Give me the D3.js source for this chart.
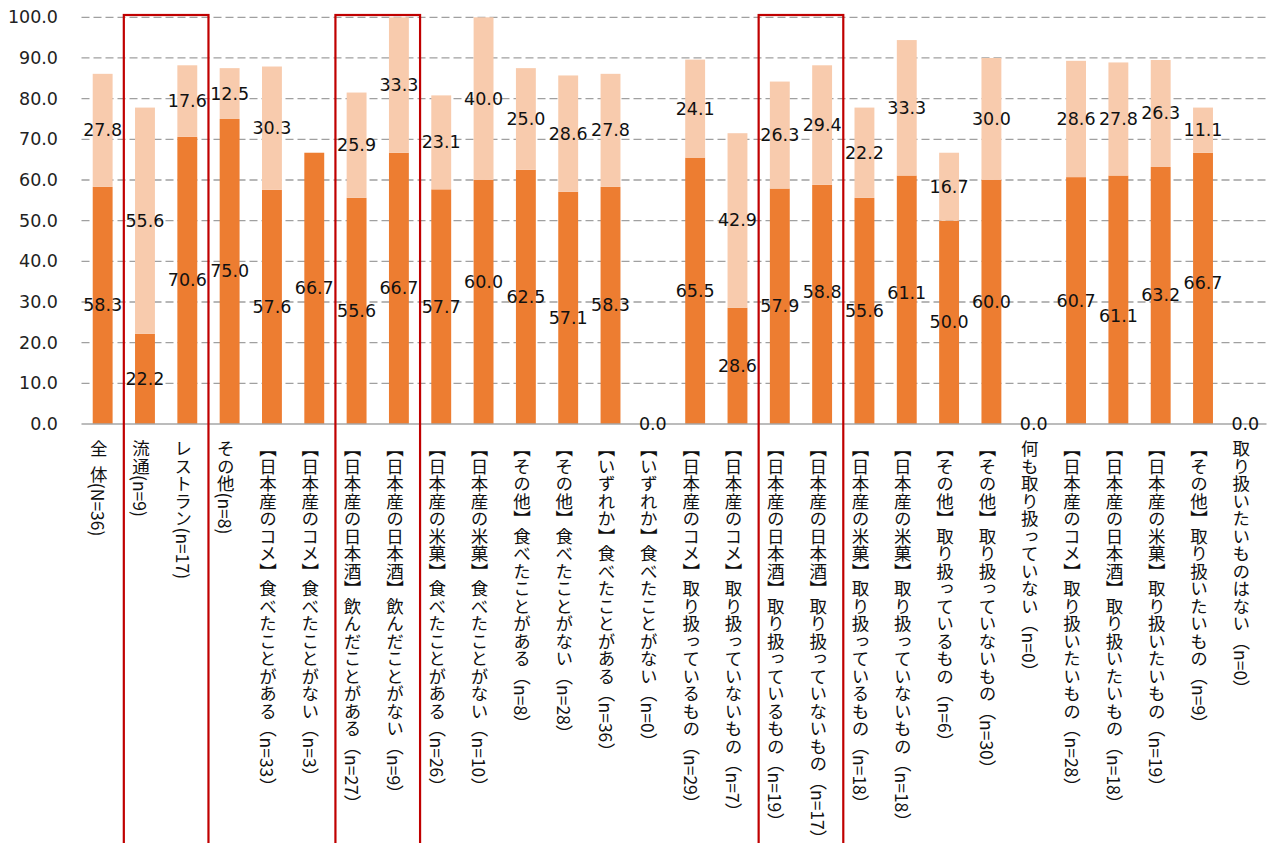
<!DOCTYPE html>
<html>
<head>
<meta charset="utf-8">
<script src="https://cdn.jsdelivr.net/npm/d3@7"></script>
<style>
  html, body { margin: 0; padding: 0; background: #fff; }
  svg { display: block; }
</style>
</head>
<body>
<svg id="chart" width="1276" height="843"></svg>
<script>
// Category labels (vertical Japanese text under each bar)
const categories = [
  "全\u00a0\u00a0体(N=36)",
  "流通(n=9)",
  "レストラン(n=17)",
  "その他(n=8)",
  "【日本産のコメ】食べたことがある（n=33）",
  "【日本産のコメ】食べたことがない（n=3）",
  "【日本産の日本酒】飲んだことがある（n=27）",
  "【日本産の日本酒】飲んだことがない（n=9）",
  "【日本産の米菓】食べたことがある（n=26）",
  "【日本産の米菓】食べたことがない（n=10）",
  "【その他】食べたことがある（n=8）",
  "【その他】食べたことがない（n=28）",
  "【いずれか】食べたことがある（n=36）",
  "【いずれか】食べたことがない（n=0）",
  "【日本産のコメ】取り扱っているもの（n=29）",
  "【日本産のコメ】取り扱っていないもの（n=7）",
  "【日本産の日本酒】取り扱っているもの（n=19）",
  "【日本産の日本酒】取り扱っていないもの（n=17）",
  "【日本産の米菓】取り扱っているもの（n=18）",
  "【日本産の米菓】取り扱っていないもの（n=18）",
  "【その他】取り扱っているもの（n=6）",
  "【その他】取り扱っていないもの（n=30）",
  "何も取り扱っていない（n=0）",
  "【日本産のコメ】取り扱いたいもの（n=28）",
  "【日本産の日本酒】取り扱いたいもの（n=18）",
  "【日本産の米菓】取り扱いたいもの（n=19）",
  "【その他】取り扱いたいもの（n=9）",
  "取り扱いたいものはない（n=0）"
];

// Lower (dark) segment values, %
const seriesLower = [
  58.3, 22.2, 70.6, 75.0, 57.6, 66.7, 55.6, 66.7, 57.7, 60.0,
  62.5, 57.1, 58.3, 0.0, 65.5, 28.6, 57.9, 58.8, 55.6, 61.1,
  50.0, 60.0, 0.0, 60.7, 61.1, 63.2, 66.7, 0.0
];

// Upper (light) segment values, %
const seriesUpper = [
  27.8, 55.6, 17.6, 12.5, 30.3, 0.0, 25.9, 33.3, 23.1, 40.0,
  25.0, 28.6, 27.8, 0.0, 24.1, 42.9, 26.3, 29.4, 22.2, 33.3,
  16.7, 30.0, 0.0, 28.6, 27.8, 26.3, 11.1, 0.0
];

// Y axis ticks
const yTicks = [0, 10, 20, 30, 40, 50, 60, 70, 80, 90, 100];

// Highlighted category groups (first index, last index)
const highlightGroups = [[1, 2], [6, 7], [16, 17]];

const colorLower = "#ED7D31";
const colorUpper = "#F8CBAD";
const numFont = "'DejaVu Sans', Verdana, sans-serif";
const jpFont = "'Noto Sans CJK JP', 'Noto Sans CJK SC', sans-serif";

const svg = d3.select("#chart");

const x = d3.scaleBand()
  .domain(d3.range(categories.length))
  .range([81.5, 1266.5])
  .paddingInner(0.53)
  .paddingOuter(0.265);

const y = d3.scaleLinear().domain([0, 100]).range([424, 17.3]);

const fmt = d3.format(".1f");

// Gridlines
svg.append("g")
  .selectAll("line")
  .data(yTicks.filter(d => d > 0))
  .join("line")
  .attr("x1", 81.5).attr("x2", 1266.5)
  .attr("y1", d => y(d)).attr("y2", d => y(d))
  .attr("stroke", "#a0a0a0")
  .attr("stroke-width", 1.3)
  .attr("stroke-dasharray", "8,4");

// Y axis labels
const yAxis = d3.axisLeft(y).tickValues(yTicks).tickFormat(fmt).tickSize(0).tickPadding(0);
const yg = svg.append("g").attr("transform", "translate(58,0)").call(yAxis);
yg.select(".domain").remove();
yg.selectAll("text")
  .attr("font-family", numFont)
  .attr("font-size", 17.5)
  .attr("fill", "#222");

// Stacked bars
const stackData = categories.map((c, i) => ({ i, lower: seriesLower[i], upper: seriesUpper[i] }));

svg.append("g")
  .selectAll("rect")
  .data(stackData)
  .join("rect")
  .attr("x", d => x(d.i))
  .attr("width", x.bandwidth())
  .attr("y", d => y(d.lower))
  .attr("height", d => y(0) - y(d.lower))
  .attr("fill", colorLower);

svg.append("g")
  .selectAll("rect")
  .data(stackData)
  .join("rect")
  .attr("x", d => x(d.i))
  .attr("width", x.bandwidth())
  .attr("y", d => y(d.lower + d.upper))
  .attr("height", d => y(d.lower) - y(d.lower + d.upper))
  .attr("fill", colorUpper);

// Baseline
svg.append("line")
  .attr("x1", 81.5).attr("x2", 1266.5)
  .attr("y1", y(0)).attr("y2", y(0))
  .attr("stroke", "#a6a6a6")
  .attr("stroke-width", 1.5);

// Value labels, centred in each segment; a few lower labels are nudged
// vertically (pixels) so neighbouring labels stay readable
const lowerNudge = { 9: -20, 11: 10, 17: -12, 19: -7, 24: 16, 26: -5 };

const labelG = svg.append("g")
  .attr("font-family", numFont)
  .attr("font-size", 17.5)
  .attr("fill", "#111")
  .attr("text-anchor", "middle")
  .attr("dominant-baseline", "central");

labelG.selectAll("text.lower")
  .data(stackData)
  .join("text")
  .attr("class", "lower")
  .attr("x", d => x(d.i) + x.bandwidth() / 2)
  .attr("y", d => (y(0) + y(d.lower)) / 2 + (lowerNudge[d.i] || 0))
  .text(d => fmt(d.lower));

labelG.selectAll("text.upper")
  .data(stackData.filter(d => d.upper > 0))
  .join("text")
  .attr("class", "upper")
  .attr("x", d => x(d.i) + x.bandwidth() / 2)
  .attr("y", d => (y(d.lower) + y(d.lower + d.upper)) / 2)
  .text(d => fmt(d.upper));

// Vertical category labels
svg.append("g")
  .selectAll("text")
  .data(categories.map((c, i) => ({ c, i })))
  .join("text")
  .attr("x", d => x(d.i) + x.bandwidth() / 2 - 4)
  .attr("y", 440)
  .attr("font-family", jpFont)
  .attr("font-size", 17.5)
  .attr("fill", "#111")
  .style("writing-mode", "vertical-rl")
  .text(d => d.c);

// Highlight frames around grouped categories
const half = x.step() * x.paddingInner() / 2;
svg.append("g")
  .selectAll("rect")
  .data(highlightGroups)
  .join("rect")
  .attr("x", d => x(d[0]) - half)
  .attr("y", 15)
  .attr("width", d => x(d[1]) + x.bandwidth() + half - (x(d[0]) - half))
  .attr("height", 860)
  .attr("fill", "none")
  .attr("stroke", "#C00000")
  .attr("stroke-width", 2.2);
</script>
</body>
</html>
